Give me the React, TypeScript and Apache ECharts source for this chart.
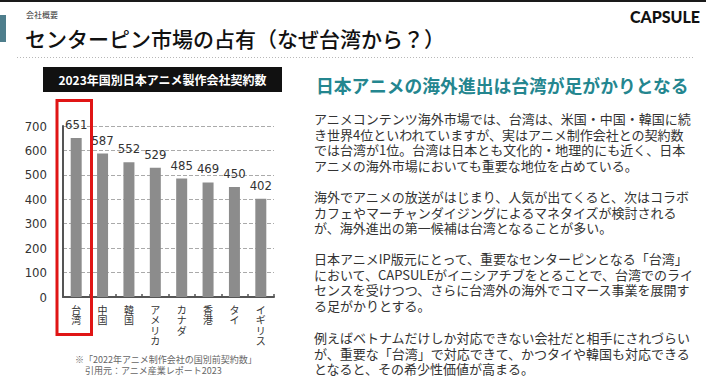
import React, { useEffect, useRef } from "react";
import * as echarts from "echarts";

const categories = ["台湾", "中国", "韓国", "アメリカ", "カナダ", "香港", "タイ", "イギリス"];
const contractCounts = [651, 587, 552, 529, 485, 469, 450, 402];
const yMin = 0;
const yMax = 700;
const yInterval = 100;

const pageLabel = "会社概要";
const pageTitle = "センターピン市場の占有（なぜ台湾から？）";
const logoText = "CAPSULE";
const chartTitle = "2023年国別日本アニメ製作会社契約数";
const footnoteLines = ["※「2022年アニメ制作会社の国別前契約数」", "引用元：アニメ産業レポート2023"];
const heading = "日本アニメの海外進出は台湾が足がかりとなる";
const paragraphs = [
  [
    "アニメコンテンツ海外市場では、台湾は、米国・中国・韓国に続",
    "き世界4位といわれていますが、実はアニメ制作会社との契約数",
    "では台湾が1位。台湾は日本とも文化的・地理的にも近く、日本",
    "アニメの海外市場においても重要な地位を占めている。",
  ],
  [
    "海外でアニメの放送がはじまり、人気が出てくると、次はコラボ",
    "カフェやマーチャンダイジングによるマネタイズが検討される",
    "が、海外進出の第一候補は台湾となることが多い。",
  ],
  [
    "日本アニメIP版元にとって、重要なセンターピンとなる「台湾」",
    "において、CAPSULEがイニシアチブをとることで、台湾でのライ",
    "センスを受けつつ、さらに台湾外の海外でコマース事業を展開す",
    "る足がかりとする。",
  ],
  [
    "例えばベトナムだけしか対応できない会社だと相手にされづらい",
    "が、重要な「台湾」で対応できて、かつタイや韓国も対応できる",
    "となると、その希少性価値が高まる。",
  ],
];

const CJK = "'Noto Sans CJK JP', 'Noto Sans', sans-serif";
const NARROW = "'Liberation Sans Narrow', 'DejaVu Sans Condensed', sans-serif";

export default function App() {
  const ref = useRef<HTMLDivElement>(null);
  useEffect(() => {
    if (!ref.current) return;
    const chart = echarts.init(ref.current, undefined, { renderer: "svg" });
    const paraTops = [111, 189, 251, 330];
    const paraLH = 15.5;
    const graphics: any[] = [
      { type: "rect", shape: { x: 0, y: 0, width: 706, height: 2 }, style: { fill: "#1a1a1a" } },
      { type: "rect", shape: { x: 0, y: 15, width: 6, height: 27 }, style: { fill: "#4e7e8c" } },
      {
        type: "text", x: 26, y: 14,
        style: { text: pageLabel, fontSize: 8, fontFamily: CJK, fill: "#333", textVerticalAlign: "middle" },
      },
      {
        type: "text", x: 25, y: 38,
        style: { text: pageTitle, fontSize: 21, fontWeight: 500, fontFamily: CJK, fill: "#111", textVerticalAlign: "middle" },
      },
      {
        type: "text", x: 700, y: 16.5,
        style: { text: logoText, fontSize: 16, fontWeight: 900, fontFamily: "Lato, sans-serif", fill: "#111", textAlign: "right", textVerticalAlign: "middle" },
      },
      {
        type: "line", shape: { x1: 17, y1: 57.5, x2: 694, y2: 57.5 },
        style: { stroke: "#b8b8b8", lineWidth: 1, lineDash: [1, 2] },
      },
      { type: "rect", shape: { x: 43, y: 67, width: 239, height: 25 }, style: { fill: "#111" } },
      {
        type: "text", x: 162.5, y: 79.5,
        style: { text: chartTitle, fontSize: 12, fontWeight: "bold", fontFamily: CJK, fill: "#fff", textAlign: "center", textVerticalAlign: "middle" },
      },
      {
        type: "rect", z: 100, shape: { x: 57, y: 100.5, width: 34.5, height: 234 },
        style: { fill: "none", stroke: "#e01515", lineWidth: 3 },
      },
      {
        type: "text", x: 75, y: 359,
        style: { text: footnoteLines[0], fontSize: 9, fontFamily: CJK, fill: "#666", textVerticalAlign: "middle" },
      },
      {
        type: "text", x: 85, y: 370,
        style: { text: footnoteLines[1], fontSize: 9, fontFamily: CJK, fill: "#666", textVerticalAlign: "middle" },
      },
      {
        type: "text", x: 316, y: 85,
        style: { text: heading, fontSize: 17.8, fontWeight: "bold", fontFamily: CJK, fill: "#24868f", textVerticalAlign: "middle" },
      },
      ...paragraphs.map((lines, i) => ({
        type: "text", x: 314, y: paraTops[i],
        style: {
          text: lines.join("\n"), fontSize: 13, lineHeight: paraLH, fontFamily: CJK, fill: "#333",
          textVerticalAlign: "top",
        },
      })),
    ];
    chart.setOption({
      animation: false,
      backgroundColor: "#fff",
      grid: { left: 63, top: 126, width: 211, height: 171, containLabel: false },
      xAxis: {
        type: "category",
        data: categories,
        axisLine: { lineStyle: { color: "#555", width: 2 } },
        axisTick: { show: true, inside: true, length: 3, lineStyle: { color: "#555", width: 1.5 } },
        axisLabel: {
          formatter: (v: string) => v.split("").join("\n"),
          fontSize: 10, lineHeight: 10.5, color: "#333", margin: 7, fontFamily: CJK, interval: 0,
        },
      },
      yAxis: {
        type: "value",
        min: yMin, max: yMax, interval: yInterval,
        axisLine: { show: true, lineStyle: { color: "#555", width: 2 } },
        axisTick: { show: false },
        splitLine: { lineStyle: { type: "dashed", color: "#aaa", width: 1 } },
        axisLabel: { fontSize: 13, color: "#333", margin: 16, fontFamily: NARROW },
      },
      series: [
        {
          type: "bar",
          data: contractCounts,
          barWidth: 11,
          itemStyle: { color: "#8c8c8c" },
          label: { show: true, position: "top", distance: 7, fontSize: 13, color: "#333", fontFamily: NARROW },
        },
      ],
      graphic: graphics,
    });
    return () => chart.dispose();
  }, []);
  return <div ref={ref} style={{ position: "absolute", left: 0, top: 0, width: 706, height: 387 }} />;
}
